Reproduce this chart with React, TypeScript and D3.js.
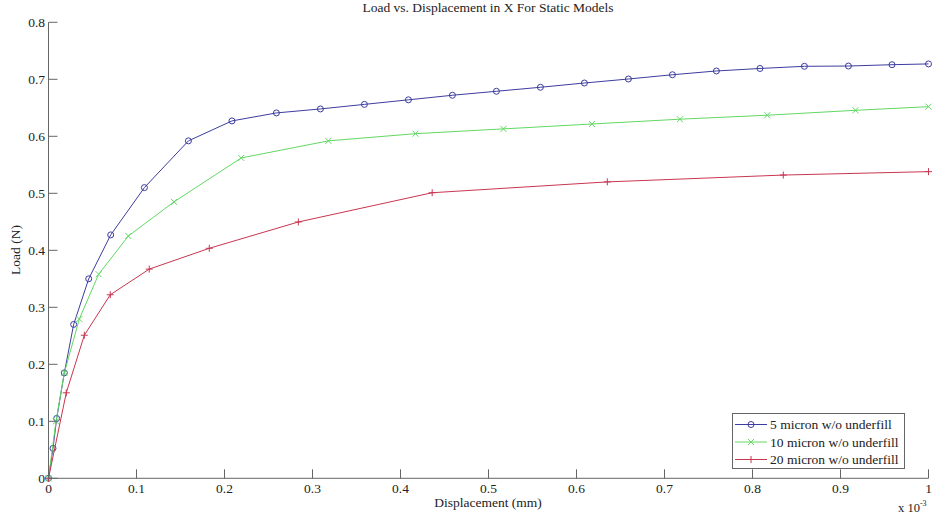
import React from "react";
import * as d3 from "d3";

const x5 = [0, 0.0051, 0.0093, 0.018, 0.0286, 0.0457, 0.0707, 0.109, 0.159, 0.2085, 0.259, 0.309, 0.359, 0.409, 0.459, 0.509, 0.559, 0.609, 0.659, 0.709, 0.759, 0.8085, 0.859, 0.909, 0.9585, 1.0];
const y5 = [0, 0.0526, 0.105, 0.185, 0.27, 0.35, 0.427, 0.51, 0.592, 0.627, 0.641, 0.648, 0.656, 0.664, 0.672, 0.679, 0.686, 0.6935, 0.7005, 0.708, 0.7146, 0.719, 0.7228, 0.7233, 0.7256, 0.727];

const x10 = [0, 0.0085, 0.018, 0.035, 0.057, 0.0907, 0.1426, 0.219, 0.318, 0.417, 0.517, 0.6176, 0.7176, 0.8168, 0.917, 1.0];
const y10 = [0, 0.1, 0.185, 0.2795, 0.358, 0.425, 0.485, 0.562, 0.592, 0.6046, 0.613, 0.6216, 0.63, 0.637, 0.6456, 0.652];

const x20 = [0, 0.0202, 0.0407, 0.0702, 0.1145, 0.1827, 0.2839, 0.436, 0.635, 0.835, 1.0];
const y20 = [0, 0.15, 0.251, 0.322, 0.367, 0.4035, 0.4497, 0.501, 0.52, 0.532, 0.538];

const xTicks = [0, 0.1, 0.2, 0.3, 0.4, 0.5, 0.6, 0.7, 0.8, 0.9, 1];
const yTicks = [0, 0.1, 0.2, 0.3, 0.4, 0.5, 0.6, 0.7, 0.8];

const seriesNames = ["5 micron w/o underfill", "10 micron w/o underfill", "20 micron w/o underfill"];
const seriesColors = ["#3c3ca0", "#62d862", "#c83650"];
const seriesMarkers = ["o", "x", "+"];

const W = 932;
const H = 518;
const FONT = '"Liberation Serif", "Times New Roman", "DejaVu Serif", serif';

function Marker({ type, cx, cy, color }: { type: string; cx: number; cy: number; color: string }) {
  const s = 3;
  if (type === "o") return <circle cx={cx} cy={cy} r={3} fill="none" stroke={color} strokeWidth={1} />;
  if (type === "x")
    return (
      <path d={`M${cx - s},${cy - s}L${cx + s},${cy + s}M${cx - s},${cy + s}L${cx + s},${cy - s}`} stroke={color} strokeWidth={1} />
    );
  return <path d={`M${cx - s - 0.5},${cy}L${cx + s + 0.5},${cy}M${cx},${cy - s - 0.5}L${cx},${cy + s + 0.5}`} stroke={color} strokeWidth={1} />;
}

export default function App() {
  const x = d3.scaleLinear().domain([0, 1]).range([48.5, 928.5]);
  const y = d3.scaleLinear().domain([0, 0.8]).range([478.3, 22.3]);
  const line = d3
    .line<[number, number]>()
    .x((d) => x(d[0]))
    .y((d) => y(d[1]));

  const series = [
    { xs: x5, ys: y5 },
    { xs: x10, ys: y10 },
    { xs: x20, ys: y20 },
  ].map((s, i) => ({
    pts: s.xs.map((v, j) => [v, s.ys[j]] as [number, number]),
    name: seriesNames[i],
    color: seriesColors[i],
    marker: seriesMarkers[i],
  }));

  const axisColor = "#666";
  const x0 = x(0);
  const y0 = y(0);

  const lgX = 732.5;
  const lgY = 413.5;
  const lgW = 172;
  const lgH = 55;
  const lgRows = [424.5, 442, 459.5];
  const fs = 13.5;

  return (
    <svg width={W} height={H} style={{ position: "absolute", left: 0, top: 0, background: "#fff", fontFamily: FONT }}>
      <rect x={0} y={0} width={W} height={H} fill="#fff" />
      {/* title */}
      <text x={488} y={12} textAnchor="middle" fontSize={fs} fill="#222">
        Load vs. Displacement in X For Static Models
      </text>

      {/* series */}
      {series.map((s) => (
        <g key={s.name}>
          <path d={line(s.pts) || ""} fill="none" stroke={s.color} strokeWidth={1} />
          {s.pts.map((p, j) => (
            <Marker key={j} type={s.marker} cx={x(p[0])} cy={y(p[1])} color={s.color} />
          ))}
        </g>
      ))}

      {/* axes */}
      <line x1={x0} x2={x(1)} y1={y0} y2={y0} stroke={axisColor} strokeWidth={1} />
      <line x1={x0} x2={x0} y1={y(0.8)} y2={y0} stroke={axisColor} strokeWidth={1} />
      {xTicks.map((t) => (
        <g key={"xt" + t}>
          <line x1={x(t)} x2={x(t)} y1={y0} y2={y0 - 9} stroke={axisColor} strokeWidth={1} />
          <text x={x(t)} y={493} textAnchor="middle" fontSize={fs} fill="#222">
            {String(t)}
          </text>
        </g>
      ))}
      {yTicks.map((t) => (
        <g key={"yt" + t}>
          <line x1={x0} x2={x0 + 9} y1={y(t)} y2={y(t)} stroke={axisColor} strokeWidth={1} />
          <text x={45} y={y(t) + 4.5} textAnchor="end" fontSize={fs} fill="#222">
            {String(t)}
          </text>
        </g>
      ))}

      {/* axis labels */}
      <text x={488} y={507} textAnchor="middle" fontSize={fs} fill="#222">
        Displacement (mm)
      </text>
      <text transform={`translate(20,250) rotate(-90)`} textAnchor="middle" fontSize={fs} fill="#222">
        Load (N)
      </text>
      <text x={898} y={512} fontSize={12.5} fill="#222">
        x 10
        <tspan dy={-6} fontSize={8}>
          -3
        </tspan>
      </text>

      {/* legend */}
      <rect x={lgX} y={lgY} width={lgW} height={lgH} fill="#fff" stroke={axisColor} strokeWidth={1} />
      {series.map((s, i) => (
        <g key={"lg" + i}>
          <line x1={735} x2={767} y1={lgRows[i]} y2={lgRows[i]} stroke={s.color} strokeWidth={1} />
          <Marker type={s.marker} cx={751} cy={lgRows[i]} color={s.color} />
          <text x={770} y={lgRows[i] + 4.5} fontSize={fs} fill="#222">
            {s.name}
          </text>
        </g>
      ))}
    </svg>
  );
}
